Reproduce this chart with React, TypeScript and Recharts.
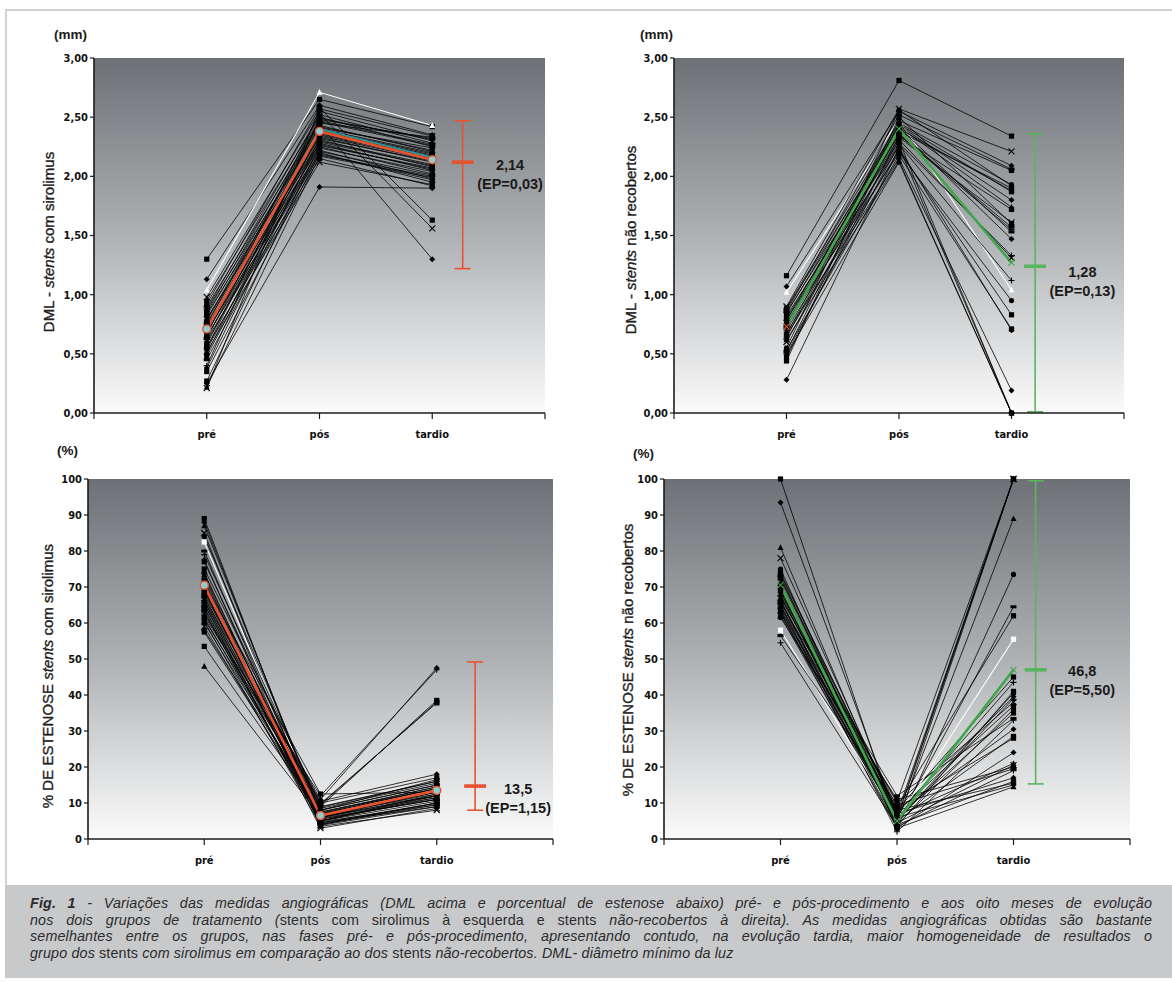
import React from 'react';
import { LineChart, Line, XAxis, YAxis, CartesianGrid, ReferenceLine, ReferenceDot } from 'recharts';

// ---------- categories & ticks ----------
const CATEGORIES = ['pré', 'pós', 'tardio'];
const X_TICK_LABELS = ['', 'pré', 'pós', 'tardio', ''];
const DML_TICKS = [0, 0.5, 1, 1.5, 2, 2.5, 3];
const PCT_TICKS = [0, 10, 20, 30, 40, 50, 60, 70, 80, 90, 100];

// ---------- Panel A: DML, stents com sirolimus ----------
const sirDmlPre = [1.30, 1.13, 1.04, 0.98, 0.95, 0.92, 0.90, 0.88, 0.87, 0.85, 0.84, 0.82, 0.80, 0.79, 0.78, 0.76, 0.75, 0.74, 0.72, 0.71, 0.70, 0.69, 0.68, 0.66, 0.65, 0.64, 0.63, 0.62, 0.60, 0.58, 0.56, 0.55, 0.54, 0.52, 0.50, 0.48, 0.45, 0.40, 0.38, 0.35, 0.27, 0.25, 0.22, 0.21];
const sirDmlPos = [2.65, 2.60, 2.71, 2.55, 2.50, 2.58, 2.45, 2.52, 2.40, 2.48, 2.35, 2.44, 2.30, 2.42, 2.38, 2.33, 2.47, 2.28, 2.36, 2.25, 2.41, 2.22, 2.34, 2.53, 2.20, 2.31, 2.46, 2.18, 2.27, 2.39, 2.15, 2.43, 2.24, 2.12, 2.37, 2.29, 2.21, 2.49, 2.32, 2.19, 2.26, 1.91, 2.17, 2.57];
const sirDmlLate = [2.42, 2.35, 2.43, 2.30, 2.25, 1.63, 2.33, 2.28, 2.20, 2.32, 2.15, 1.30, 2.10, 2.22, 2.18, 2.12, 2.27, 2.05, 2.16, 2.02, 2.24, 1.98, 2.14, 1.56, 1.95, 2.08, 2.26, 2.00, 2.06, 2.19, 1.92, 2.21, 2.04, 1.93, 2.17, 2.09, 2.01, 2.31, 2.13, 1.97, 2.07, 1.90, 1.99, 2.34];
const sirDmlMeanAlt = [0.70, 2.40, 2.16];
const sirDmlMean = [0.71, 2.38, 2.14];
const sirDmlErr = [1.22, 2.12, 2.47]; // low, mark, high
const sirDmlText = ['2,14', '(EP=0,03)'];

// ---------- Panel B: DML, stents não recobertos ----------
const bmsDmlPre = [1.16, 1.07, 1.02, 0.90, 0.89, 0.88, 0.86, 0.85, 0.84, 0.82, 0.80, 0.79, 0.78, 0.76, 0.75, 0.74, 0.72, 0.70, 0.68, 0.66, 0.65, 0.64, 0.62, 0.60, 0.55, 0.53, 0.52, 0.50, 0.49, 0.47, 0.44, 0.28];
const bmsDmlPos = [2.81, 2.55, 2.48, 2.57, 2.45, 2.40, 2.52, 2.35, 2.43, 2.30, 2.38, 2.25, 2.42, 2.33, 2.20, 2.47, 2.36, 2.28, 2.15, 2.44, 2.22, 2.39, 2.13, 2.31, 2.56, 2.18, 2.41, 2.27, 2.12, 2.34, 2.50, 2.24];
const bmsDmlLate = [2.34, 2.09, 1.04, 2.21, 1.93, 1.88, 2.06, 1.55, 1.80, 0.00, 1.90, 0.00, 1.74, 1.61, 0.95, 2.05, 1.57, 1.33, 0.19, 1.87, 0.83, 1.47, 0.00, 1.31, 1.92, 0.71, 1.53, 1.12, 0.00, 1.72, 1.60, 0.70];
const bmsDmlMean = [0.73, 2.40, 1.27];
const bmsDmlErr = [0.01, 1.24, 2.36];
const bmsDmlText = ['1,28', '(EP=0,13)'];

// ---------- Panel C: % estenose, stents com sirolimus ----------
const sirPctPre = [89, 88, 87, 85, 84, 82.5, 80, 79, 77.5, 77, 75, 74, 73.5, 73, 72, 71, 70, 69.5, 69, 68, 67.5, 67, 66, 65.5, 65, 64, 63.5, 63, 62, 61.5, 61, 60, 60.5, 59, 58, 57.5, 64.5, 62.5, 66.2, 53.5, 68.5, 71.5, 48, 66.5];
const sirPctPos = [5, 6, 7, 4, 8, 6.5, 5.5, 9, 4.5, 7.5, 10, 5, 6, 3.5, 8.5, 12.5, 7, 4, 6, 9.5, 5, 11, 6.5, 3, 8, 7, 4.5, 5.5, 10.5, 6, 9, 7.5, 3.8, 5, 8, 6.8, 4.2, 12, 5.8, 7.2, 9.8, 4.8, 6.2, 8.8];
const sirPctLate = [12, 13, 14, 10, 15, 13.5, 11, 16, 9, 14.5, 17, 12.5, 11.5, 8, 15.5, 13, 14, 9.5, 12, 38, 10.5, 47.5, 13, 8.5, 16.5, 12, 10, 11, 18, 13.5, 38.5, 14, 9, 11.5, 15, 12.5, 10, 47, 11, 14.5, 37.8, 9.5, 12, 16];
const sirPctMean = [70.5, 6.5, 13.5];
const sirPctErr = [8, 14.7, 49.2];
const sirPctText = ['13,5', '(EP=1,15)'];

// ---------- Panel D: % estenose, stents não recobertos ----------
const bmsPctPre = [100, 93.5, 81, 78, 75, 73.5, 73, 72, 71, 70, 69, 68.5, 68, 67, 66.5, 66, 65.5, 65, 64.5, 64, 63.5, 63, 62.5, 62, 61.5, 58, 56.5, 54.5, 67.5, 69.5, 72.5, 70.5, 66.2, 64.8, 63.2, 74];
const bmsPctPos = [4, 6, 5, 7, 3, 8, 4.5, 6.5, 5.5, 9, 3.5, 7.5, 5, 10, 4, 6, 12, 2, 7, 5, 8.5, 3, 6.5, 4.5, 11, 5.5, 9.5, 3.5, 7, 4, 8, 6, 3, 10.5, 5, 7.5];
const bmsPctLate = [100, 100, 89, 100, 73.5, 45, 64.5, 43.5, 100, 62, 41, 39.5, 39, 38, 36, 35, 33.5, 33, 30.5, 28.5, 28, 24, 21, 20.5, 20, 55.5, 19.5, 19, 17, 16, 15.5, 15, 14.5, 100, 40.5, 37];
const bmsPctMean = [70.5, 5, 47];
const bmsPctErr = [15.3, 47, 99.5];
const bmsPctText = ['46,8', '(EP=5,50)'];

// ---------- styling ----------
const RED = '#e9522e';
const TEAL = '#2a9a9a';
const GREEN = '#3fa64b';
const GREEN_ERR = '#59b55e';
const TICK_FONT = '"Liberation Sans Narrow", "DejaVu Sans Condensed", "Roboto Condensed", Arial, sans-serif';
const LABEL_FONT = '"Liberation Sans", Arial, sans-serif';
const SHAPES = ['square', 'diamond', 'triangle', 'x', 'circle', 'square', 'dash', 'plus', 'diamond', 'square'];

function renderMarker(p: any, shape: string, color: string, key: string) {
  const { cx, cy } = p;
  if (cx == null || cy == null) return <g key={key} />;
  const s = 2.6;
  switch (shape) {
    case 'square':
      return <rect key={key} x={cx - s} y={cy - s} width={2 * s} height={2 * s} fill={color} />;
    case 'diamond':
      return <polygon key={key} points={`${cx},${cy - 3} ${cx + 3},${cy} ${cx},${cy + 3} ${cx - 3},${cy}`} fill={color} />;
    case 'triangle':
      return <polygon key={key} points={`${cx},${cy - 3.2} ${cx + 3},${cy + 2.5} ${cx - 3},${cy + 2.5}`} fill={color} />;
    case 'x':
      return <path key={key} d={`M${cx - 3},${cy - 3}L${cx + 3},${cy + 3}M${cx - 3},${cy + 3}L${cx + 3},${cy - 3}`} stroke={color} strokeWidth={1.1} />;
    case 'circle':
      return <circle key={key} cx={cx} cy={cy} r={2.6} fill={color} />;
    case 'dash':
      return <rect key={key} x={cx - 3} y={cy - 1.5} width={6} height={3} fill={color} />;
    case 'plus':
      return <path key={key} d={`M${cx - 3},${cy}L${cx + 3},${cy}M${cx},${cy - 3}L${cx},${cy + 3}`} stroke={color} strokeWidth={1.1} />;
    case 'mean':
      return <circle key={key} cx={cx} cy={cy} r={4} fill="#8ccfd0" stroke={RED} strokeWidth={1.4} />;
    default:
      return <circle key={key} cx={cx} cy={cy} r={2} fill={color} />;
  }
}

type MeanLine = { values: number[]; color: string; width: number; marker: string; firstMarkerColor?: string };

type PanelProps = {
  id: string;
  left: number; top: number; width: number; height: number;
  margin: { top: number; right: number; bottom: number; left: number };
  yDomain: [number, number];
  yTicks: number[];
  yFmt: (v: number) => string;
  pre: number[]; pos: number[]; late: number[];
  whiteIdx: number;
  means: MeanLine[];
  err: number[]; errColor: string; errX: number;
  text: string[]; textX: number; textY: number;
};

const Y_AXIS_W = 40;

function Panel(props: PanelProps) {
  const { id, width, height, margin, yDomain, yTicks, yFmt, pre, pos, late, whiteIdx, means, err, errColor, errX, text, textX, textY } = props;
  const series = [pre, pos, late];
  const rows = CATEGORIES.map((c, i) => {
    const row: any = { x: i + 1, cat: c };
    series[i].forEach((v, k) => { row['p' + k] = v; });
    means.forEach((m, j) => { row['m' + j] = m.values[i]; });
    return row;
  });
  const plotW = width - margin.left - margin.right - Y_AXIS_W;
  const unit = plotW / 4;
  const cap = 8 / unit;
  const mid = 11 / unit;
  const [lo, mk, hi] = err;
  const axisColor = '#1b1b1b';
  return (
    <div style={{ position: 'absolute', left: props.left, top: props.top }}>
      <LineChart width={width} height={height} data={rows} margin={margin}>
        <defs>
          <linearGradient id={'bg-' + id} x1="0" y1="0" x2="0" y2="1">
            <stop offset="0%" stopColor="#6d7175" />
            <stop offset="50%" stopColor="#aeb1b4" />
            <stop offset="100%" stopColor="#fbfbfb" />
          </linearGradient>
        </defs>
        <CartesianGrid horizontal={false} vertical={false} fill={`url(#bg-${id})`} stroke="none" />
        <XAxis
          type="number"
          dataKey="x"
          domain={[0, 4]}
          ticks={[0, 1, 2, 3, 4]}
          tickFormatter={(v: number) => X_TICK_LABELS[v] || ''}
          allowDecimals={false}
          height={30}
          tickSize={6}
          tickMargin={11}
          axisLine={{ stroke: axisColor, strokeWidth: 1.6 }}
          tickLine={{ stroke: axisColor, strokeWidth: 1.2 }}
          tick={{ fontSize: 11, fontWeight: 700, fill: '#111', fontFamily: TICK_FONT }}
        />
        <YAxis
          type="number"
          domain={yDomain}
          ticks={yTicks}
          tickFormatter={yFmt}
          width={Y_AXIS_W}
          tickSize={4}
          tickMargin={2}
          interval={0}
          axisLine={{ stroke: axisColor, strokeWidth: 1.6 }}
          tickLine={{ stroke: axisColor, strokeWidth: 1.2 }}
          tick={{ fontSize: 11, fontWeight: 700, fill: '#111', fontFamily: TICK_FONT }}
        />
        {pre.map((_, k) => {
          const isWhite = k === whiteIdx;
          const color = isWhite ? '#ffffff' : '#000000';
          const shape = SHAPES[k % SHAPES.length];
          return (
            <Line
              key={'p' + k}
              dataKey={'p' + k}
              type="linear"
              stroke={color}
              strokeWidth={isWhite ? 1.1 : 0.8}
              isAnimationActive={false}
              activeDot={false}
              dot={(p: any) => renderMarker(p, shape, color, `${id}-p${k}-${p.index}`)}
            />
          );
        })}
        {means.map((m, j) => (
          <Line
            key={'m' + j}
            dataKey={'m' + j}
            type="linear"
            stroke={m.color}
            strokeWidth={m.width}
            isAnimationActive={false}
            activeDot={false}
            dot={m.marker === 'none' ? false : (p: any) => renderMarker(p, m.marker, p.index === 0 && m.firstMarkerColor ? m.firstMarkerColor : m.color, `${id}-m${j}-${p.index}`)}
          />
        ))}
        <ReferenceLine segment={[{ x: errX, y: lo }, { x: errX, y: hi }]} stroke={errColor} strokeWidth={1.6} />
        <ReferenceLine segment={[{ x: errX - cap, y: lo }, { x: errX + cap, y: lo }]} stroke={errColor} strokeWidth={1.6} />
        <ReferenceLine segment={[{ x: errX - cap, y: hi }, { x: errX + cap, y: hi }]} stroke={errColor} strokeWidth={1.6} />
        <ReferenceLine segment={[{ x: errX - mid, y: mk }, { x: errX + mid, y: mk }]} stroke={errColor} strokeWidth={3.6} />
        <ReferenceDot
          x={textX}
          y={textY}
          r={0}
          fill="none"
          stroke="none"
          label={(lp: any) => {
            const vb = lp.viewBox || {};
            const cx = (vb.x ?? 0) + (vb.width ?? 0) / 2;
            const cy = (vb.y ?? 0) + (vb.height ?? 0) / 2;
            return (
              <g>
                <text x={cx} y={cy} textAnchor="middle" dominantBaseline="central" fontFamily={LABEL_FONT} fontWeight={700} fontSize={14.5} fill="#1a1a1a">{text[0]}</text>
                <text x={cx} y={cy + 19} textAnchor="middle" dominantBaseline="central" fontFamily={LABEL_FONT} fontWeight={700} fontSize={14.5} fill="#1a1a1a">{text[1]}</text>
              </g>
            );
          }}
        />
      </LineChart>
    </div>
  );
}

const fmtDml = (v: number) => v.toFixed(2).replace('.', ',');
const fmtPct = (v: number) => String(v);

function YTitle({ x, y, children }: { x: number; y: number; children: React.ReactNode }) {
  return (
    <div style={{
      position: 'absolute', left: x, top: y, transform: 'translate(-50%, -50%) rotate(-90deg)',
      whiteSpace: 'nowrap', fontFamily: LABEL_FONT, fontSize: 15, color: '#1e1e1e', fontWeight: 400,
      WebkitTextStroke: '0.35px #1e1e1e',
    }}>{children}</div>
  );
}

function Unit({ x, y, text }: { x: number; y: number; text: string }) {
  return (
    <div style={{ position: 'absolute', left: x, top: y, fontFamily: LABEL_FONT, fontSize: 13.5, fontWeight: 700, color: '#1a1a1a', lineHeight: '16px' }}>{text}</div>
  );
}

const CAPTION_TOPS = [895, 911.7, 928.4, 945.1];

function CaptionLine({ i, last, children }: { i: number; last?: boolean; children: React.ReactNode }) {
  return (
    <div style={{
      position: 'absolute', left: 30, top: CAPTION_TOPS[i], width: 1122, height: 16, lineHeight: '16px',
      whiteSpace: 'nowrap', textAlign: last ? 'left' : 'justify', textAlignLast: (last ? 'left' : 'justify') as any,
      fontFamily: '"Liberation Sans", Arial, sans-serif', fontSize: 14.3, letterSpacing: 0.15, fontStyle: 'italic', color: '#2b2b2b',
    }}>{children}</div>
  );
}

export default function App() {
  return (
    <div style={{ position: 'absolute', left: 0, top: 0, width: 1172, height: 987, background: '#fff', overflow: 'hidden' }}>
      {/* frame */}
      <div style={{ position: 'absolute', left: 5, top: 9, width: 1167, height: 2, background: '#d3d3d3' }} />
      <div style={{ position: 'absolute', left: 5, top: 9, width: 2, height: 877, background: '#d3d3d3' }} />
      {/* caption */}
      <div style={{ position: 'absolute', left: 5, top: 885, width: 1167, height: 93, background: '#c8c9cb' }} />
      <CaptionLine i={0}><b>Fig. 1</b> - Variações das medidas angiográficas (DML acima e porcentual de estenose abaixo) pré- e pós-procedimento e aos oito meses de evolução</CaptionLine>
      <CaptionLine i={1}>nos dois grupos de tratamento (<span style={{ fontStyle: 'normal' }}>stents com sirolimus à esquerda e stents</span> não-recobertos à direita). As medidas angiográficas obtidas são bastante</CaptionLine>
      <CaptionLine i={2}>semelhantes entre os grupos, nas fases pré- e pós-procedimento, apresentando contudo, na evolução tardia, maior homogeneidade de resultados o</CaptionLine>
      <CaptionLine i={3} last>grupo dos <span style={{ fontStyle: 'normal' }}>stents</span> com sirolimus em comparação ao dos <span style={{ fontStyle: 'normal' }}>stents</span> não-recobertos. DML- diâmetro mínimo da luz</CaptionLine>

      <Panel
        id="a" left={0} top={0} width={586} height={460}
        margin={{ top: 58, right: 41, bottom: 17, left: 54 }}
        yDomain={[0, 3]} yTicks={DML_TICKS} yFmt={fmtDml}
        pre={sirDmlPre} pos={sirDmlPos} late={sirDmlLate} whiteIdx={2}
        means={[
          { values: sirDmlMeanAlt, color: TEAL, width: 1.6, marker: 'none' },
          { values: sirDmlMean, color: RED, width: 2.6, marker: 'mean' },
        ]}
        err={sirDmlErr} errColor={RED} errX={3.27}
        text={sirDmlText} textX={3.69} textY={2.10}
      />
      <Panel
        id="b" left={586} top={0} width={586} height={460}
        margin={{ top: 58, right: 48, bottom: 17, left: 48 }}
        yDomain={[0, 3]} yTicks={DML_TICKS} yFmt={fmtDml}
        pre={bmsDmlPre} pos={bmsDmlPos} late={bmsDmlLate} whiteIdx={2}
        means={[{ values: bmsDmlMean, color: GREEN, width: 2.6, marker: 'x', firstMarkerColor: RED }]}
        err={bmsDmlErr} errColor={GREEN_ERR} errX={3.21}
        text={bmsDmlText} textX={3.63} textY={1.19}
      />
      <Panel
        id="c" left={0} top={440} width={586} height={460}
        margin={{ top: 39, right: 33, bottom: 31, left: 48 }}
        yDomain={[0, 100]} yTicks={PCT_TICKS} yFmt={fmtPct}
        pre={sirPctPre} pos={sirPctPos} late={sirPctLate} whiteIdx={5}
        means={[{ values: sirPctMean, color: RED, width: 2.6, marker: 'mean' }]}
        err={sirPctErr} errColor={RED} errX={3.33}
        text={sirPctText} textX={3.70} textY={14.0}
      />
      <Panel
        id="d" left={586} top={440} width={586} height={460}
        margin={{ top: 39, right: 42, bottom: 31, left: 38 }}
        yDomain={[0, 100]} yTicks={PCT_TICKS} yFmt={fmtPct}
        pre={bmsPctPre} pos={bmsPctPos} late={bmsPctLate} whiteIdx={25}
        means={[{ values: bmsPctMean, color: GREEN, width: 2.6, marker: 'x' }]}
        err={bmsPctErr} errColor={GREEN_ERR} errX={3.19}
        text={bmsPctText} textX={3.59} textY={46.6}
      />

      <Unit x={54} y={27} text="(mm)" />
      <Unit x={640} y={27} text="(mm)" />
      <Unit x={57} y={443} text="(%)" />
      <Unit x={633} y={446} text="(%)" />

      <YTitle x={48} y={242}>DML - <i>stents</i> com sirolimus</YTitle>
      <YTitle x={630} y={240}>DML - <i>stents</i> não recobertos</YTitle>
      <YTitle x={47} y={676}>% DE ESTENOSE <i>stents</i> com sirolimus</YTitle>
      <YTitle x={627} y={660}>% DE ESTENOSE <i>stents</i> não recobertos</YTitle>
    </div>
  );
}
